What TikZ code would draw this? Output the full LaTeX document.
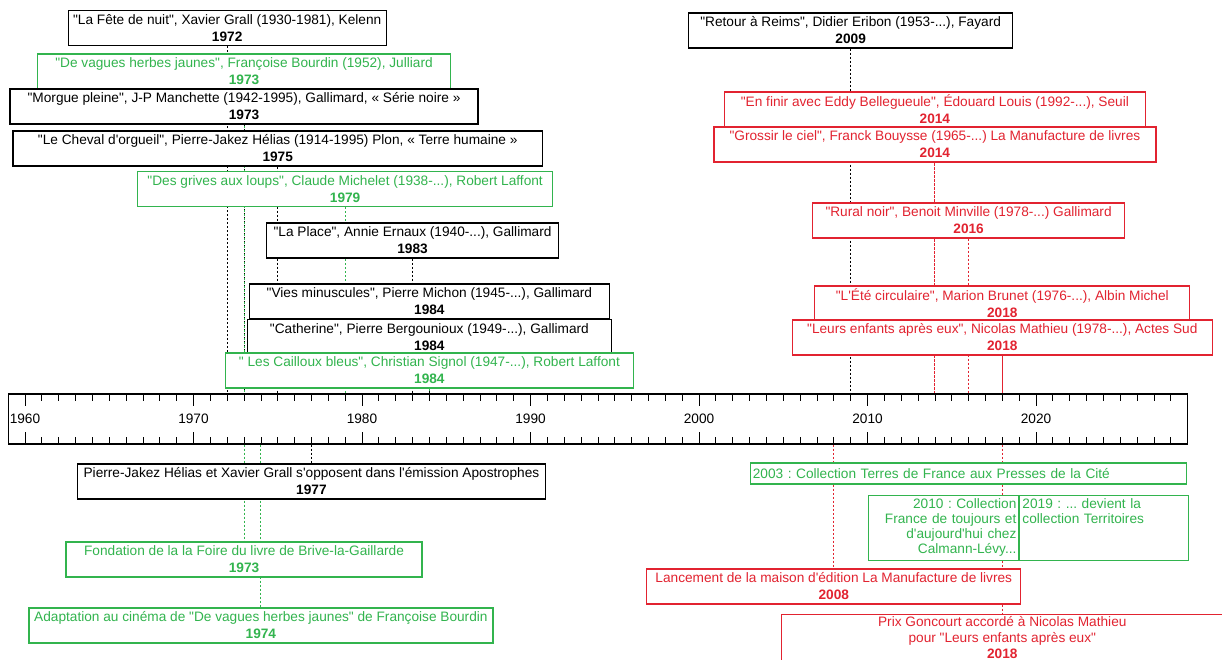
\documentclass[tikz,border=0pt]{standalone}
\usepackage{fontspec}
\setmainfont{Liberation Sans}[Ligatures=TeXOff]
\usetikzlibrary{backgrounds}
\frenchspacing

\definecolor{livgreen}{RGB}{50,180,78}
\definecolor{livred}{RGB}{226,35,48}

\newcommand{\yx}[1]{25+(#1-1960)*16.85}  % year -> x (px)

\begin{document}
\begin{tikzpicture}[
   x=0.75pt, y=-0.75pt,   % <-- 1 unit = 1 px, y going down
   every node/.append style={font=\fontsize{10.25}{12.75}\selectfont},
   event/.style={draw, fill=white, line width=0.95pt, align=center,
      minimum height=26.25pt, inner xsep=2pt, inner ysep=1pt},
   bw/.style={minimum width=#1*0.75pt},
   grn/.style={draw=livgreen, text=livgreen},
   rd/.style={draw=livred, text=livred},
   period/.style={draw=livgreen, text=livgreen, fill=white, line width=0.95pt,
      inner xsep=2pt, inner ysep=2pt},
   link/.style={line width=0.75pt, dash pattern=on 1.5pt off 1.5pt}
]
\useasboundingbox (0,0) rectangle (1222,660);

% axis
\node[draw, line width=1pt, minimum width=884.6pt, minimum height=37.5pt,
      inner sep=0pt] (axis) at (597.9,419) {};
\foreach \yr in {1960,...,2028}
   \draw[line width=0.6pt] ({\yx{\yr}},394) -- ++(0,7) ({\yx{\yr}},444) -- ++(0,-7);
\foreach \yr in {1960,1970,...,2020} {
   \draw[line width=0.6pt] ({\yx{\yr}},394) -- ++(0,12) ({\yx{\yr}},444) -- ++(0,-12);
   \node (lab\yr) at ({\yx{\yr}},419) {\yr};
}

% above the axis
\node[event, bw=318] (fete) at ({\yx{1972}},28)
   {"La Fête de nuit", Xavier Grall (1930-1981), Kelenn\\\textbf{1972}};
\node[event, grn, bw=413] (vagues) at ({\yx{1973}},71.5)
   {"De vagues herbes jaunes", Françoise Bourdin (1952), Julliard\\\textbf{1973}};
\node[event, bw=468] (morgue) at ({\yx{1973}},106.5)
   {"Morgue pleine", J-P Manchette (1942-1995), Gallimard, « Série noire »\\\textbf{1973}};
\node[event, bw=529.5] (cheval) at ({\yx{1975}},148.5)
   {"Le Cheval d'orgueil", Pierre-Jakez Hélias (1914-1995) Plon, « Terre humaine »\\\textbf{1975}};
\node[event, grn, bw=415] (grives) at ({\yx{1979}},189)
   {"Des grives aux loups", Claude Michelet (1938-...), Robert Laffont\\\textbf{1979}};
\node[event, bw=292] (place) at ({\yx{1983}},240.5)
   {"La Place", Annie Ernaux (1940-...), Gallimard\\\textbf{1983}};
\node[event, bw=360] (vies) at ({\yx{1984}},301.5)
   {"Vies minuscules", Pierre Michon (1945-...), Gallimard\\\textbf{1984}};
\node[event, bw=364] (catherine) at ({\yx{1984}},337)
   {"Catherine", Pierre Bergounioux (1949-...), Gallimard\\\textbf{1984}};
\node[event, grn, bw=408] (cailloux) at ({\yx{1984}},370.5)
   {" Les Cailloux bleus", Christian Signol (1947-...), Robert Laffont\\\textbf{1984}};

\node[event, bw=324] (reims) at ({\yx{2009}},30.5)
   {"Retour à Reims", Didier Eribon (1953-...), Fayard\\\textbf{2009}};
\node[event, rd, bw=421] (eddy) at ({\yx{2014}},109.5)
   {"En finir avec Eddy Bellegueule", Édouard Louis (1992-...), Seuil\\\textbf{2014}};
\node[event, rd, bw=442] (grossir) at ({\yx{2014}},144.5)
   {"Grossir le ciel", Franck Bouysse (1965-...) La Manufacture de livres\\\textbf{2014}};
\node[event, rd, bw=312] (rural) at ({\yx{2016}},220.5)
   {"Rural noir", Benoit Minville (1978-...) Gallimard\\\textbf{2016}};
\node[event, rd, bw=375] (ete) at ({\yx{2018}},303.5)
   {"L'Été circulaire", Marion Brunet (1976-...), Albin Michel\\\textbf{2018}};
\node[event, rd, bw=420] (leurs) at ({\yx{2018}},337.5)
   {"Leurs enfants après eux", Nicolas Mathieu (1978-...), Actes Sud\\\textbf{2018}};

% below the axis
\node[event, bw=468] (apost) at ({\yx{1977}},481.5)
   {Pierre-Jakez Hélias et Xavier Grall s'opposent dans l'émission Apostrophes\\\textbf{1977}};
\node[event, grn, bw=356] (brive) at ({\yx{1973}},559.5)
   {Fondation de la la Foire du livre de Brive-la-Gaillarde\\\textbf{1973}};
\node[event, grn, bw=464] (cinema) at ({\yx{1974}},625.5)
   {Adaptation au cinéma de "De vagues herbes jaunes" de Françoise Bourdin\\\textbf{1974}};

\node[period, anchor=west, text width=323pt, align=left, minimum height=15.75pt]
   (terres) at ({\yx{2003}},473.5)
   {2003 : Collection Terres de France aux Presses de la Cité};
\node[period, anchor=north west, text width=109.2pt, align=right,
      text height=8pt, text depth=36.75pt,
      font=\fontsize{10.25}{11.25}\selectfont] (calmann) at ({\yx{2010}},495)
   {2010 : Collection\\France de toujours et\\d'aujourd'hui chez\\Calmann-Lévy...};
\node[period, anchor=north west, text width=122.5pt, align=left,
      text height=8pt, text depth=36.75pt,
      font=\fontsize{10.25}{11.25}\selectfont] (territ) at ({\yx{2019}},495)
   {2019 : ... devient la\\collection Territoires};
\node[event, rd, bw=374] (lancement) at ({\yx{2008}},586.5)
   {Lancement de la maison d'édition La Manufacture de livres\\\textbf{2008}};
\node[event, rd, bw=442, anchor=north, inner ysep=1pt, text depth=28pt,
      font=\fontsize{10.25}{12.1}\selectfont] (goncourt) at ({\yx{2018}},614)
   {Prix Goncourt accordé à Nicolas Mathieu\\pour "Leurs enfants après eux"\\\textbf{2018}};

% dotted links to the axis
\begin{scope}[on background layer]
\foreach \n in {fete,morgue,cheval,place,vies,catherine,reims}
   \draw[link] (\n.south) -- (\n.south |- axis.north);
\foreach \n in {vagues,grives,cailloux}
   \draw[link, livgreen] (\n.south) -- (\n.south |- axis.north);
\foreach \n in {eddy,grossir,rural,ete,leurs}
   \draw[link, livred] (\n.south) -- (\n.south |- axis.north);
\draw[link] (apost.north |- axis.south) -- (apost.north);
\foreach \n in {brive,cinema}
   \draw[link, livgreen] (\n.north |- axis.south) -- (\n.north);
\foreach \n in {lancement,goncourt}
   \draw[link, livred] (\n.north |- axis.south) -- (\n.north);
\end{scope}
\end{tikzpicture}
\end{document}
